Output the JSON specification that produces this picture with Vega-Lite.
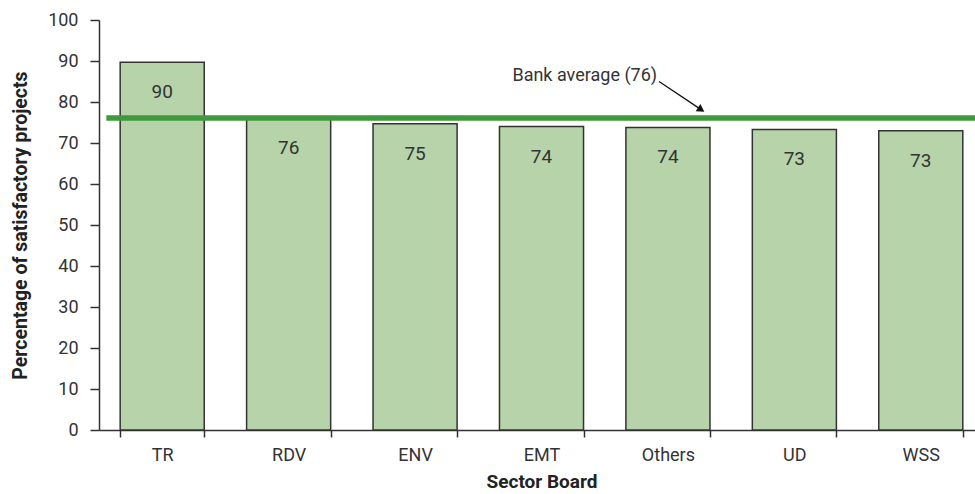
{
  "$schema": "https://vega.github.io/schema/vega-lite/v6.json",
  "width": 885,
  "height": 410,
  "autosize": {"type": "none"},
  "padding": {"left": 99, "top": 20, "right": 0, "bottom": 64},
  "background": "white",
  "config": {
    "view": {"stroke": null},
    "font": "Roboto, sans-serif"
  },
  "layer": [
    {
      "data": {
        "values": [
          {"sector": "TR", "pct": 89.7},
          {"sector": "RDV", "pct": 76.0},
          {"sector": "ENV", "pct": 74.7},
          {"sector": "EMT", "pct": 74.0},
          {"sector": "Others", "pct": 73.8},
          {"sector": "UD", "pct": 73.3},
          {"sector": "WSS", "pct": 73.0}
        ]
      },
      "encoding": {
        "x": {
          "field": "sector",
          "type": "nominal",
          "sort": null,
          "scale": {"paddingInner": 0.335, "paddingOuter": 0.1675},
          "axis": {
            "title": "Sector Board",
            "titleFontSize": 19,
            "titleFontWeight": "bold",
            "titleColor": "#222",
            "titlePadding": 8,
            "labelAngle": 0,
            "labelFontSize": 18,
            "labelColor": "#333",
            "labelPadding": 9,
            "tickBand": "extent",
            "tickSize": 7,
            "tickColor": "#333",
            "tickWidth": 1.5,
            "domainColor": "#333",
            "domainWidth": 1.5
          }
        },
        "y": {
          "field": "pct",
          "type": "quantitative",
          "scale": {"domain": [0, 100]},
          "axis": {
            "title": "Percentage of satisfactory projects",
            "titleFontSize": 19.5,
            "titleFontWeight": "bold",
            "titleColor": "#222",
            "titlePadding": 17,
            "values": [0, 10, 20, 30, 40, 50, 60, 70, 80, 90, 100],
            "grid": false,
            "labelFontSize": 18,
            "labelColor": "#333",
            "labelPadding": 12,
            "tickSize": 9,
            "tickColor": "#333",
            "tickWidth": 1.5,
            "domainColor": "#333",
            "domainWidth": 1.5
          }
        }
      },
      "layer": [
        {
          "mark": {"type": "bar", "fill": "#b6d3a9", "stroke": "#333", "strokeWidth": 1.5}
        },
        {
          "mark": {"type": "text", "baseline": "middle", "dy": 30, "fontSize": 19, "color": "#333"},
          "encoding": {"text": {"field": "pct", "type": "quantitative", "format": ".0f"}}
        }
      ]
    },
    {
      "encoding": {
        "x": {"field": "x", "type": "quantitative", "scale": {"domain": [0, 7], "nice": false, "zero": false}, "axis": null},
        "y": {"field": "y", "type": "quantitative"}
      },
      "layer": [
        {
          "data": {"values": [{"x": 0.058, "x2": 7.2, "y": 76.1}]},
          "mark": {"type": "rule", "color": "#3e9a3a", "strokeWidth": 5.5},
          "encoding": {"x2": {"field": "x2"}}
        },
        {
          "data": {"values": [{"x": 4.43, "y": 85.0, "x2": 4.763, "y2": 78.14}]},
          "mark": {"type": "rule", "color": "#111", "strokeWidth": 1.3},
          "encoding": {"x2": {"field": "x2"}, "y2": {"field": "y2"}}
        },
        {
          "data": {"values": [{"x": 4.763, "y": 78.14}]},
          "mark": {"type": "point", "shape": "triangle-right", "filled": true, "color": "#111", "size": 75, "angle": 33, "opacity": 1}
        },
        {
          "data": {"values": [{"x": 3.27, "y": 86.4, "label": "Bank average (76)"}]},
          "mark": {"type": "text", "align": "left", "baseline": "middle", "fontSize": 18, "color": "#333"},
          "encoding": {"text": {"field": "label"}}
        }
      ]
    }
  ],
  "resolve": {"scale": {"x": "independent"}}
}
